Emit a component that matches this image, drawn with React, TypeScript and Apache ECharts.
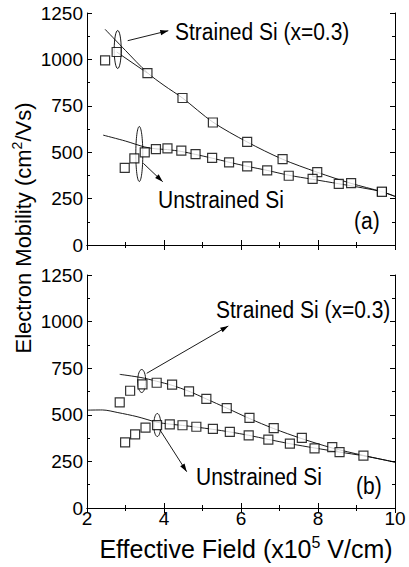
import React, { useEffect, useRef } from "react";
import * as echarts from "echarts";

// Panel (a)
const strainedA: [number, number][] = [
  [2.47, 995], [2.77, 1040], [3.57, 926], [4.48, 792], [5.27, 660], [6.16, 556],
  [7.08, 463], [7.98, 393], [8.86, 333], [9.66, 287],
];
const strainedAFit: [number, number][] = [
  [2.47, 1162], [3.0, 1048], [3.57, 928], [4.0, 860], [4.48, 792], [5.27, 662],
  [6.16, 555], [7.08, 462], [7.98, 392], [8.86, 332], [9.66, 287], [10, 262],
];
const strainedAConn: [number, number][] = [[2.77, 1040], [3.57, 926]];
const unstrainedA: [number, number][] = [
  [2.98, 416], [3.23, 467], [3.5, 499], [3.79, 517], [4.09, 521], [4.45, 508],
  [4.82, 490], [5.25, 469], [5.69, 445], [6.16, 424], [6.68, 402], [7.24, 373],
  [7.86, 356], [8.54, 329], [9.66, 287],
];
const unstrainedAFit: [number, number][] = [
  [2.42, 592], [3.0, 560], [3.5, 528], [3.79, 518], [4.09, 514], [4.45, 504],
  [4.82, 488], [5.25, 468], [5.69, 446], [6.16, 424], [6.68, 402], [7.24, 376],
  [7.86, 354], [8.54, 330], [9.15, 308], [9.66, 287], [10, 262],
];

// Panel (b)
const strainedB: [number, number][] = [
  [2.85, 567], [3.12, 629], [3.44, 663], [3.81, 672], [4.21, 662], [4.65, 626],
  [5.1, 585], [5.63, 536], [6.22, 484], [6.85, 429], [7.58, 376], [8.37, 327],
  [9.18, 281],
];
const strainedBFit: [number, number][] = [
  [2.85, 717], [3.4, 700], [3.81, 680], [4.21, 658], [4.65, 626], [5.1, 585],
  [5.63, 536], [6.22, 480], [6.85, 426], [7.58, 372], [8.37, 322], [9.18, 282],
  [10, 246],
];
const unstrainedB: [number, number][] = [
  [2.99, 352], [3.25, 395], [3.52, 431], [3.82, 445], [4.15, 449], [4.48, 444],
  [4.84, 436], [5.27, 424], [5.71, 408], [6.2, 390], [6.71, 367], [7.27, 345],
  [7.91, 320], [8.56, 300],
];
const unstrainedBFit: [number, number][] = [
  [2.0, 525], [2.4, 526], [2.8, 512], [3.3, 490], [3.82, 460], [4.15, 450],
  [4.48, 443], [4.84, 434], [5.27, 422], [5.71, 408], [6.2, 390], [6.71, 368],
  [7.27, 345], [7.91, 322], [8.56, 300], [9.18, 280], [10, 246],
];

const xTicks = { min: 2, max: 10, interval: 2 };
const yTicks = { min: 0, max: 1250, interval: 250 };

const FONT = "'Liberation Sans', Arial, sans-serif";

function arrowHead(x1: number, y1: number, x2: number, y2: number, len = 8, hw = 2.6) {
  const dx = x2 - x1, dy = y2 - y1;
  const l = Math.hypot(dx, dy);
  const ux = dx / l, uy = dy / l;
  const bx = x2 - ux * len, by = y2 - uy * len;
  const nx = -uy, ny = ux;
  return [
    [x2, y2],
    [bx + nx * hw, by + ny * hw],
    [bx - nx * hw, by - ny * hw],
  ];
}

function arrow(x1: number, y1: number, x2: number, y2: number) {
  return [
    { type: "line", shape: { x1, y1, x2, y2 }, style: { stroke: "#000", lineWidth: 0.9 } },
    { type: "polygon", shape: { points: arrowHead(x1, y1, x2, y2) }, style: { fill: "#000" } },
  ];
}

function ellipse(cx: number, cy: number, rx: number, ry: number) {
  return { type: "ellipse", shape: { cx, cy, rx, ry }, style: { fill: "none", stroke: "#000", lineWidth: 0.9 } };
}

function label(text: string, x: number, y: number, size = 21) {
  return {
    type: "text", x, y, scaleY: 1.15,
    style: { text, fill: "#000", font: `${size}px ${FONT}`, verticalAlign: "middle" },
  };
}

export default function App() {
  const ref = useRef<HTMLDivElement>(null);
  useEffect(() => {
    if (!ref.current) return;
    const chart = echarts.init(ref.current, null, { renderer: "svg" });
    const axisLine = { show: true, lineStyle: { color: "#000", width: 1 } };
    const mkX = (grid: number, position: string, labels: boolean) => ({
      type: "value", gridIndex: grid, position, ...xTicks,
      axisLine, splitLine: { show: false },
      axisTick: { show: true, inside: true, length: 5, lineStyle: { color: "#000" } },
      minorTick: { show: true, splitNumber: 2, length: 3, lineStyle: { color: "#000" } },
      axisLabel: { show: labels, color: "#000", fontFamily: FONT, fontSize: 19, margin: 1, formatter: (v: number) => String(v) },
    });
    const mkY = (grid: number, position: string, labels: boolean) => ({
      type: "value", gridIndex: grid, position, ...yTicks,
      axisLine, splitLine: { show: false },
      axisTick: { show: true, inside: true, length: 5, lineStyle: { color: "#000" } },
      minorTick: { show: true, splitNumber: 2, length: 3, lineStyle: { color: "#000" } },
      axisLabel: { show: labels, color: "#000", fontFamily: FONT, fontSize: 19, margin: 4, formatter: (v: number) => String(v) },
    });
    const marker = (data: [number, number][], grid: number) => ({
      type: "scatter", xAxisIndex: grid * 2, yAxisIndex: grid * 2, data,
      symbol: "rect", symbolSize: 9, z: 5,
      itemStyle: { color: "#fff", borderColor: "#000", borderWidth: 1.2 },
    });
    const fit = (data: [number, number][], grid: number, smooth: number | boolean = 0.3) => ({
      type: "line", xAxisIndex: grid * 2, yAxisIndex: grid * 2, data, smooth,
      showSymbol: false, symbol: "none", z: 2,
      lineStyle: { color: "#000", width: 0.9 },
    });

    chart.setOption({
      animation: false,
      backgroundColor: "#fff",
      grid: [
        { left: 87, right: 14, top: 13, height: 232 },
        { left: 87, right: 14, top: 275, height: 233 },
      ],
      xAxis: [mkX(0, "bottom", false), mkX(0, "top", false), mkX(1, "bottom", true), mkX(1, "top", false)],
      yAxis: [mkY(0, "left", true), mkY(0, "right", false), mkY(1, "left", true), mkY(1, "right", false)],
      series: [
        fit(strainedAFit, 0),
        fit(strainedAConn, 0, false),
        fit(unstrainedAFit, 0),
        marker(strainedA, 0),
        marker(unstrainedA, 0),
        fit(strainedBFit, 1),
        fit(unstrainedBFit, 1),
        marker(strainedB, 1),
        marker(unstrainedB, 1),
      ],
      graphic: [
        ellipse(117.7, 49.5, 3.5, 19),
        ...arrow(127.7, 40.7, 168.3, 30.7),
        label("Strained Si (x=0.3)", 175, 32),
        ellipse(139.3, 154, 3.5, 27.5),
        ...arrow(143.3, 163.3, 162.7, 181.7),
        label("Unstrained Si", 158, 200),
        label("(a)", 354, 221),
        ellipse(141.7, 381, 4, 11.5),
        ...arrow(146.7, 373.3, 228.3, 326),
        label("Strained Si (x=0.3)", 216, 310),
        ellipse(157.3, 425, 3.5, 11.5),
        ...arrow(160, 430, 186.7, 471.7),
        label("Unstrained Si", 196, 477),
        label("(b)", 356, 486),
        {
          type: "text", x: 22, y: 228, rotation: Math.PI / 2,
          style: {
            text: "{a|Electron Mobility (cm}{s|2}{a|/Vs)}",
            align: "center", verticalAlign: "middle",
            rich: {
              a: { fontFamily: FONT, fontSize: 22, fill: "#000", lineHeight: 24, verticalAlign: "bottom" },
              s: { fontFamily: FONT, fontSize: 14, fill: "#000", lineHeight: 24, verticalAlign: "top" },
            },
          },
        },
        {
          type: "text", x: 246, y: 548,
          style: {
            text: "{a|Effective Field (x10}{s|5}{a| V/cm)}",
            align: "center", verticalAlign: "middle",
            rich: {
              a: { fontFamily: FONT, fontSize: 25, fill: "#000", lineHeight: 27, verticalAlign: "bottom" },
              s: { fontFamily: FONT, fontSize: 16, fill: "#000", lineHeight: 27, verticalAlign: "top" },
            },
          },
        },
      ],
    });
    return () => chart.dispose();
  }, []);
  return <div ref={ref} style={{ position: "fixed", left: 0, top: 0, width: 409, height: 567, background: "#fff" }} />;
}
